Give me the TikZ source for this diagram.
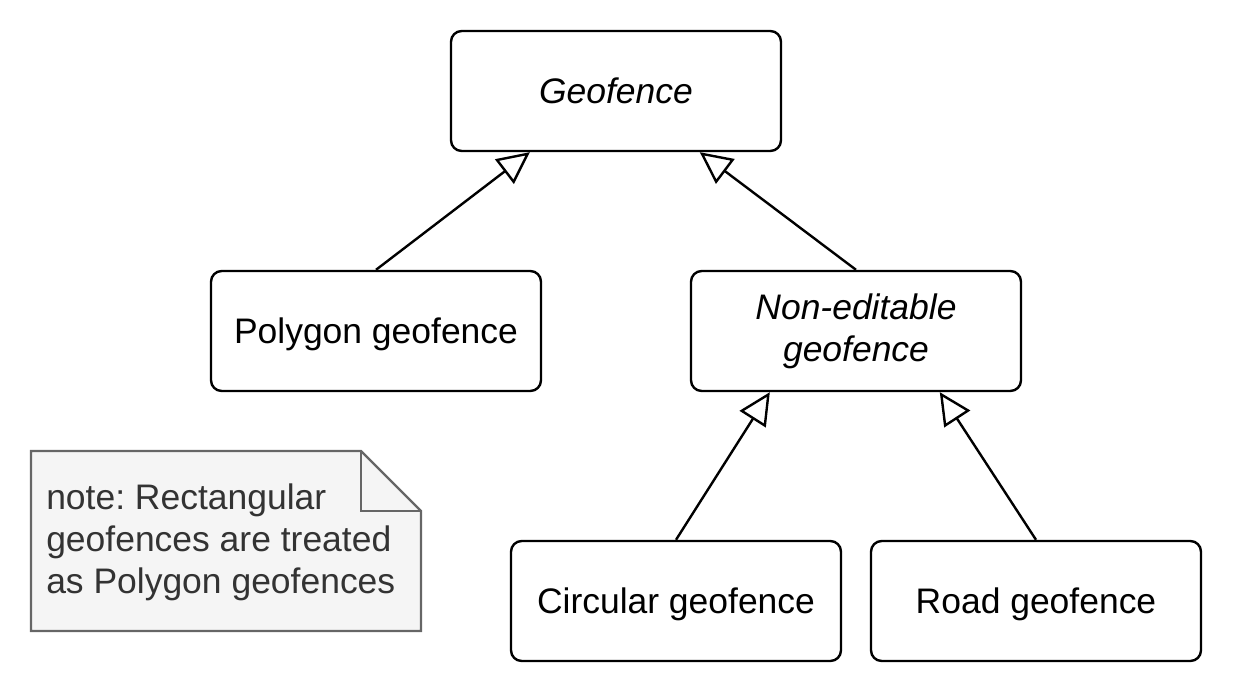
\documentclass[tikz,border=0pt]{standalone}
\usepackage{fontspec}
\setmainfont{Liberation Sans}
\usetikzlibrary{arrows.meta,calc}
\definecolor{notefill}{HTML}{F5F5F5}
\definecolor{notedraw}{HTML}{666666}
\definecolor{notetext}{HTML}{333333}
\begin{document}
\frenchspacing
\begin{tikzpicture}[x=0.75pt,y=-0.75pt,
  txt/.style={font=\fontsize{26.6}{31.5}\selectfont},
  cls/.style={txt, draw=black, line width=1.8pt, rounded corners=8pt, minimum width=247.5pt, minimum height=90pt, align=center, inner sep=0pt},
  oneline/.style={text height=24.1pt, text depth=5.6pt},
  abstractcls/.style={cls, font=\fontsize{26.6}{31.5}\selectfont\itshape},
  inh/.style={line width=1.8pt, -{Triangle[open,length=24pt,width=23pt,fill=white]}},
  notebox/.style={fill=notefill, draw=notedraw, line width=1.8pt, line join=miter}]
\useasboundingbox (0,0) rectangle (1233,693);
\node[abstractcls, oneline] (geo) at (616,91) {Geofence};
\node[cls, oneline] (poly) at (376,331) {Polygon geofence};
\node[abstractcls] (ne) at (856,331) {Non-editable\\geofence};
\node[cls, oneline] (circ) at (676,601) {Circular geofence};
\node[cls, oneline] (road) at (1036,601) {Road geofence};
\draw[notebox] (31,451) -- (361,451) -- (421,511) -- (421,631) -- (31,631) -- cycle;
\draw[notebox, fill=none] (361,451) -- (361,511) -- (421,511);
\node[txt, anchor=west, inner sep=0pt, align=left, text=notetext] (note) at (46,542) {note: Rectangular\\geofences are treated\\as Polygon geofences};
\draw[inh] (poly.north) -- ([xshift=60pt]geo.south west);
\draw[inh] (ne.north) -- ([xshift=187.5pt]geo.south west);
\draw[inh] (circ.north) -- ([xshift=60pt]ne.south west);
\draw[inh] (road.north) -- ([xshift=187.5pt]ne.south west);
\end{tikzpicture}
\end{document}
